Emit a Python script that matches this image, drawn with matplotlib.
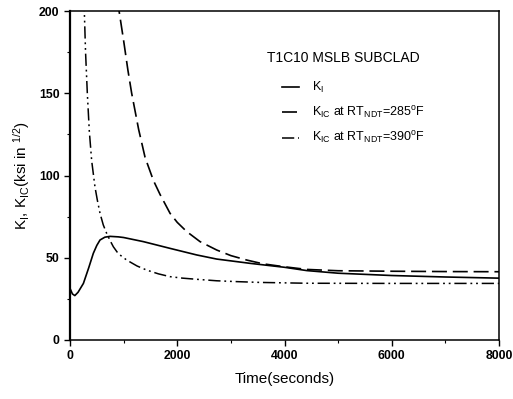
import matplotlib
matplotlib.use("Agg")
import matplotlib.pyplot as plt
from matplotlib.ticker import MultipleLocator

# ---- data ----
t_ki = [0, 45, 90, 150, 250, 350, 435, 500, 560, 650, 746, 900, 1000, 1368, 1866, 2363, 2736, 3358, 4000, 4415, 5000, 6000, 7000, 8000]
k_i = [31.4, 28.0, 27.0, 29.0, 34.4, 44.0, 52.7, 57.5, 60.8, 62.5, 63.0, 62.7, 62.3, 59.8, 55.7, 51.7, 49.2, 46.6, 44.2, 42.2, 40.6, 39.2, 38.3, 37.6]

t_k285 = [880, 915, 1000, 1080, 1150, 1280, 1400, 1555, 1679, 1866, 2000, 2177, 2425, 2736, 3000, 3296, 3600, 4000, 4415, 5000, 6000, 7000, 8000]
k_285 = [215, 200, 182, 164, 150, 128, 111, 97, 88.5, 77.0, 71.5, 65.9, 59.8, 54.7, 51.3, 48.6, 46.3, 44.5, 42.9, 42.1, 41.8, 41.6, 41.5]

t_k390 = [250, 267, 290, 323, 360, 404, 466, 510, 560, 620, 684, 750, 808, 900, 1057, 1250, 1430, 1650, 1866, 2100, 2363, 2736, 3100, 3545, 4415, 6000, 8000]
k_390 = [215, 200, 175, 150, 127, 109, 93, 85, 77, 70, 64.8, 60.3, 56.7, 52.5, 48.6, 45.0, 42.5, 40.2, 38.5, 37.6, 36.9, 36.0, 35.5, 35.0, 34.5, 34.4, 34.4]

labels = [r"K$_\mathregular{I}$",
          r"K$_\mathregular{IC}$ at RT$_\mathregular{NDT}$=285$^\mathregular{o}$F",
          r"K$_\mathregular{IC}$ at RT$_\mathregular{NDT}$=390$^\mathregular{o}$F"]
title_text = "T1C10 MSLB SUBCLAD"
xlabel = "Time(seconds)"
ylabel = r"K$_\mathregular{I}$, K$_\mathregular{IC}$(ksi in $^\mathregular{1/2}$)"

plt.rcParams['font.family'] = ['Liberation Sans', 'DejaVu Sans']
plt.rcParams['mathtext.fontset'] = 'custom'
plt.rcParams['mathtext.rm'] = 'Liberation Sans'
plt.rcParams['mathtext.it'] = 'Liberation Sans'
plt.rcParams['mathtext.bf'] = 'Liberation Sans:bold'

fig = plt.figure(figsize=(5.13, 3.99), dpi=100)
ax = fig.add_axes([70/513, 1 - 340/399, 429/513, 329/399])

ax.plot(t_ki, k_i, color='black', lw=1.2, ls='-', label=labels[0])
ax.plot(t_k285, k_285, color='black', lw=1.2, ls=(0, (9, 3.5)), label=labels[1])
ax.plot(t_k390, k_390, color='black', lw=1.1, ls=(0, (8, 2.5, 1.2, 2.5, 1.2, 2.5)), label=labels[2])

ax.set_xlim(0, 8000)
ax.set_ylim(0, 200)
ax.xaxis.set_major_locator(MultipleLocator(2000))
ax.xaxis.set_minor_locator(MultipleLocator(1000))
ax.yaxis.set_major_locator(MultipleLocator(50))
ax.yaxis.set_minor_locator(MultipleLocator(25))
ax.tick_params(which='major', direction='out', length=4, width=1, labelsize=8.8)
ax.tick_params(which='minor', direction='out', length=2.5, width=0.8)
for lab in ax.get_xticklabels() + ax.get_yticklabels():
    lab.set_fontweight('bold')
for sp in ax.spines.values():
    sp.set_linewidth(1.1)
ax.spines['left'].set_linewidth(1.6)

ax.set_xlabel(xlabel, fontsize=11, labelpad=7)
ax.set_ylabel(ylabel, fontsize=11, labelpad=5)

ax.text(0.636, 0.857, title_text, transform=ax.transAxes, fontsize=10,
        ha='center', va='center')

leg = ax.legend(loc='upper left', bbox_to_anchor=(0.494, 0.79), frameon=False,
                fontsize=9, handlelength=1.4, handletextpad=1.0, labelspacing=0.75,
                borderaxespad=0, borderpad=0)

fig.savefig("out.png", dpi=100)
